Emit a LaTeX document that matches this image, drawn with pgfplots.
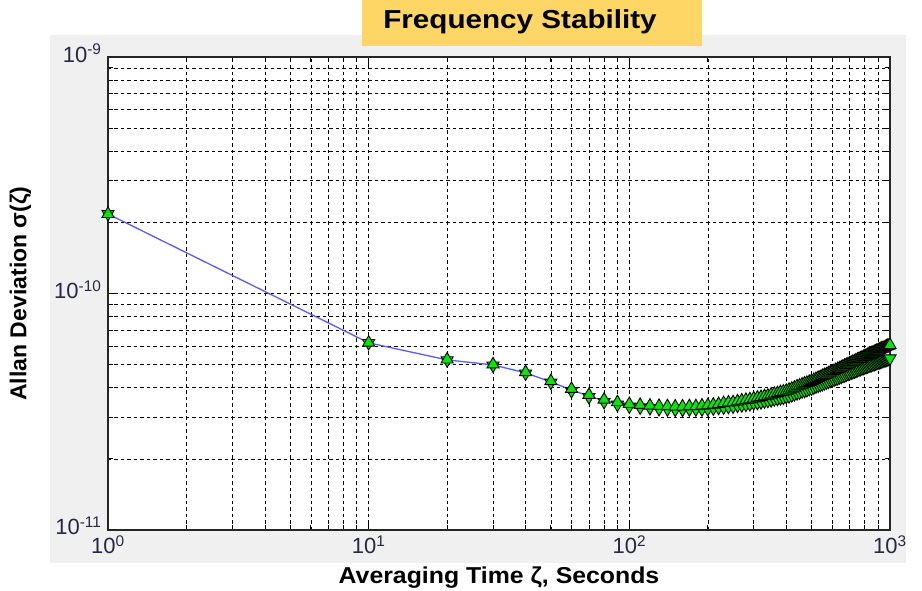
\documentclass[border=0pt]{standalone}
\usepackage{pgfplots}
\pgfplotsset{compat=1.18}
\usepackage{pgfplotstable}
\usepackage{graphicx}
\usepackage{fontspec}
\setmainfont{Liberation Sans}

\definecolor{figgray}{RGB}{240,240,240}
\definecolor{titlebox}{RGB}{253,214,102}
\definecolor{mblue}{RGB}{90,90,255}
\definecolor{mgreen}{RGB}{0,235,0}
\definecolor{ticktext}{RGB}{40,40,70}

% Allan deviation with upper / lower bounds, tau in seconds
\pgfplotstableread{
tau sigma up lo
1 2.17e-10 2.17e-10 2.17e-10
10 6.19e-11 6.20e-11 6.18e-11
20 5.24e-11 5.26e-11 5.22e-11
30 4.99e-11 5.02e-11 4.96e-11
40 4.62e-11 4.65e-11 4.59e-11
50 4.23e-11 4.26e-11 4.20e-11
60 3.91e-11 3.95e-11 3.87e-11
70 3.69e-11 3.73e-11 3.65e-11
80 3.52e-11 3.56e-11 3.48e-11
90 3.43e-11 3.47e-11 3.39e-11
100 3.37e-11 3.41e-11 3.33e-11
110 3.34e-11 3.38e-11 3.30e-11
120 3.32e-11 3.36e-11 3.28e-11
130 3.30e-11 3.35e-11 3.25e-11
140 3.29e-11 3.34e-11 3.24e-11
150 3.28e-11 3.33e-11 3.23e-11
160 3.28e-11 3.33e-11 3.23e-11
170 3.29e-11 3.34e-11 3.24e-11
180 3.29e-11 3.34e-11 3.24e-11
190 3.30e-11 3.36e-11 3.24e-11
200 3.31e-11 3.37e-11 3.25e-11
210 3.33e-11 3.39e-11 3.27e-11
220 3.35e-11 3.41e-11 3.29e-11
230 3.37e-11 3.44e-11 3.30e-11
240 3.39e-11 3.46e-11 3.32e-11
250 3.40e-11 3.47e-11 3.33e-11
260 3.43e-11 3.50e-11 3.36e-11
270 3.45e-11 3.53e-11 3.37e-11
280 3.47e-11 3.55e-11 3.39e-11
290 3.49e-11 3.57e-11 3.41e-11
300 3.52e-11 3.60e-11 3.44e-11
310 3.54e-11 3.63e-11 3.45e-11
320 3.56e-11 3.65e-11 3.47e-11
330 3.59e-11 3.68e-11 3.50e-11
340 3.61e-11 3.70e-11 3.52e-11
350 3.64e-11 3.74e-11 3.54e-11
360 3.67e-11 3.77e-11 3.57e-11
370 3.69e-11 3.79e-11 3.59e-11
380 3.72e-11 3.83e-11 3.61e-11
390 3.74e-11 3.85e-11 3.63e-11
400 3.77e-11 3.88e-11 3.66e-11
410 3.80e-11 3.92e-11 3.68e-11
420 3.84e-11 3.96e-11 3.72e-11
430 3.88e-11 4.00e-11 3.76e-11
440 3.92e-11 4.05e-11 3.79e-11
450 3.95e-11 4.08e-11 3.82e-11
460 3.99e-11 4.12e-11 3.86e-11
470 4.02e-11 4.16e-11 3.88e-11
480 4.05e-11 4.19e-11 3.91e-11
490 4.09e-11 4.23e-11 3.95e-11
500 4.12e-11 4.27e-11 3.97e-11
510 4.16e-11 4.31e-11 4.01e-11
520 4.20e-11 4.35e-11 4.05e-11
530 4.24e-11 4.40e-11 4.08e-11
540 4.27e-11 4.43e-11 4.11e-11
550 4.31e-11 4.48e-11 4.14e-11
560 4.35e-11 4.52e-11 4.18e-11
570 4.38e-11 4.55e-11 4.21e-11
580 4.42e-11 4.60e-11 4.24e-11
590 4.46e-11 4.64e-11 4.28e-11
600 4.49e-11 4.68e-11 4.30e-11
610 4.52e-11 4.71e-11 4.33e-11
620 4.56e-11 4.75e-11 4.37e-11
630 4.59e-11 4.79e-11 4.39e-11
640 4.63e-11 4.83e-11 4.43e-11
650 4.66e-11 4.87e-11 4.45e-11
660 4.70e-11 4.91e-11 4.49e-11
670 4.73e-11 4.95e-11 4.51e-11
680 4.77e-11 4.99e-11 4.55e-11
690 4.80e-11 5.02e-11 4.58e-11
700 4.83e-11 5.06e-11 4.60e-11
710 4.87e-11 5.10e-11 4.64e-11
720 4.90e-11 5.14e-11 4.66e-11
730 4.93e-11 5.17e-11 4.69e-11
740 4.96e-11 5.21e-11 4.71e-11
750 5.00e-11 5.25e-11 4.75e-11
760 5.03e-11 5.29e-11 4.77e-11
770 5.06e-11 5.32e-11 4.80e-11
780 5.09e-11 5.35e-11 4.83e-11
790 5.12e-11 5.39e-11 4.85e-11
800 5.15e-11 5.42e-11 4.88e-11
810 5.18e-11 5.46e-11 4.90e-11
820 5.21e-11 5.49e-11 4.93e-11
830 5.24e-11 5.53e-11 4.95e-11
840 5.27e-11 5.56e-11 4.98e-11
850 5.29e-11 5.59e-11 4.99e-11
860 5.32e-11 5.62e-11 5.02e-11
870 5.35e-11 5.66e-11 5.04e-11
880 5.38e-11 5.69e-11 5.07e-11
890 5.41e-11 5.73e-11 5.09e-11
900 5.43e-11 5.75e-11 5.11e-11
910 5.46e-11 5.79e-11 5.13e-11
920 5.49e-11 5.82e-11 5.16e-11
930 5.51e-11 5.85e-11 5.17e-11
940 5.54e-11 5.88e-11 5.20e-11
950 5.56e-11 5.90e-11 5.22e-11
960 5.59e-11 5.94e-11 5.24e-11
970 5.62e-11 5.98e-11 5.26e-11
980 5.64e-11 6.00e-11 5.28e-11
990 5.66e-11 6.02e-11 5.30e-11
1000 5.69e-11 6.06e-11 5.32e-11
}\allandata

\begin{document}
\begin{tikzpicture}
\useasboundingbox (0,0) rectangle (922pt,591pt);
\fill[white] (0,0) rectangle (922pt,591pt);
\fill[figgray] (50pt,28pt) rectangle (906pt,556pt);
\fill[titlebox] (362pt,545pt) rectangle (702pt,591pt);
\node[font=\bfseries\fontsize{26}{26}\selectfont] at (520pt,569pt)
  {\scalebox{1.14}[1]{Frequency Stability}};

\begin{axis}[
  at={(108pt,61pt)}, anchor=south west,
  scale only axis, width=782pt, height=473pt,
  xmode=log, ymode=log,
  xmin=1, xmax=1000, ymin=1e-11, ymax=1e-9,
  axis background/.style={fill=white},
  grid=both,
  major grid style={black, dash pattern=on 3.5pt off 3pt, line width=0.6pt},
  minor grid style={black, dash pattern=on 3.5pt off 3pt, line width=0.6pt},
  tick align=inside,
  major tick length=8pt, minor tick length=5pt,
  tick style={black, line width=0.8pt},
  axis line style={black!85, line width=1.2pt},
  xtick={1,10,100,1000},
  xticklabels={10\textsuperscript{0},10\textsuperscript{1},10\textsuperscript{2},10\textsuperscript{3}},
  ytick={1e-11,1e-10,1e-9},
  yticklabels={10\textsuperscript{-11},10\textsuperscript{-10},10\textsuperscript{-9}},
  ticklabel style={font=\fontsize{22}{22}\selectfont, text=ticktext},
  yticklabel style={xshift=-3pt, yshift=4pt},
  xticklabel style={yshift=-2pt},
  xlabel={\scalebox{1.08}[1]{Averaging Time ζ, Seconds}},
  ylabel={Allan Deviation σ(ζ)},
  label style={font=\bfseries\fontsize{23}{23}\selectfont},
  xlabel style={at={(axis description cs:0.5,-0.1)}, anchor=center},
  ylabel style={at={(axis description cs:-0.112,0.5)}, anchor=center},
]
\addplot[mblue, line width=1.3pt, mark=none] table[x=tau, y=sigma] {\allandata};
\addplot[only marks, mark=triangle*, mark size=7pt,
  mark options={rotate=180, fill=mgreen, draw=black, line width=0.9pt}]
  table[x=tau, y=lo] {\allandata};
\addplot[only marks, mark=triangle*, mark size=7pt,
  mark options={fill=mgreen, draw=black, line width=0.9pt}]
  table[x=tau, y=up] {\allandata};
\end{axis}
\end{tikzpicture}
\end{document}
